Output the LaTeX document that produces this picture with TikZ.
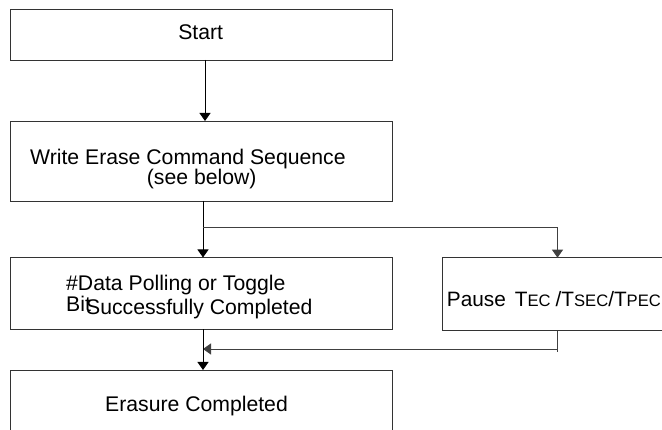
\documentclass[tikz,border=0pt]{standalone}
\usepackage{fontspec}
\setmainfont{Liberation Sans}
\usetikzlibrary{arrows.meta}
\newcommand{\smallcapsize}{\fontsize{16.6}{18}\selectfont}
\begin{document}
\begin{tikzpicture}[x=1pt,y=-1pt,
  box/.style={draw=black!80, line width=0.9pt, rectangle, anchor=north west, inner sep=0pt, outer sep=0pt, minimum width=382pt},
  txt/.style={inner sep=0pt, anchor=base west, font=\fontsize{21.2}{23}\selectfont},
  arr/.style={draw=black, line width=0.9pt, -{Triangle[width=11pt,length=8pt]}},
  garr/.style={draw=black!75, line width=0.9pt, -{Triangle[width=11pt,length=8pt]}},
  gline/.style={draw=black!75, line width=0.9pt}]
\useasboundingbox (0,0) rectangle (662,430);
\clip (0,0) rectangle (662,430);
% boxes
\node[box, minimum height=50.5pt] (start) at (10,9.5) {};
\node[box, minimum height=80pt] (write) at (10,121) {};
\node[box, minimum height=72pt] (data) at (10,257.5) {};
\node[box, minimum width=260pt, minimum height=73pt] (pause) at (442.7,257.7) {};
\node[box, minimum height=80pt] (erase) at (10,370) {};
% texts
\node[txt, anchor=base] (tstart) at (200.7,39.5) {Start};
\node[txt] (tw1) at (30,165) {Write Erase Command Sequence};
\node[txt] (tw2) at (146.7,185) {(see below)};
\node[txt] (td1) at (66,291) {\#Data Polling or Toggle};
\node[txt] (td2) at (66,312) {Bit};
\node[txt] (td3) at (86,315) {Successfully Completed};
\node[txt] (te) at (105,411.7) {Erasure Completed};
\node[inner sep=0pt, anchor=base west, font=\fontsize{20.8}{22}\selectfont] (tp) at (446.7,306.7)
  {Pause\hspace{9pt}T{\smallcapsize EC}\hspace{5pt}/T{\smallcapsize SEC}/T{\smallcapsize PEC}};
% coordinates
\coordinate (br) at (203,227);
\coordinate (px) at (557.5,0);
\coordinate (jn) at (203,349);
% connectors
\draw[arr] ([xshift=4pt]start.south) -- ([xshift=4pt]write.north);
\draw[arr] ([xshift=2pt]write.south) -- ([xshift=2pt]data.north);
\draw[garr] (br) -| (pause.north -| px);
\draw[gline] (pause.south -| px) -- ++(0,21.5);
\draw[garr] (jn -| px) -- (jn);
\draw[arr] ([xshift=2pt]data.south) -- ([xshift=2pt]erase.north);
\end{tikzpicture}
\end{document}
